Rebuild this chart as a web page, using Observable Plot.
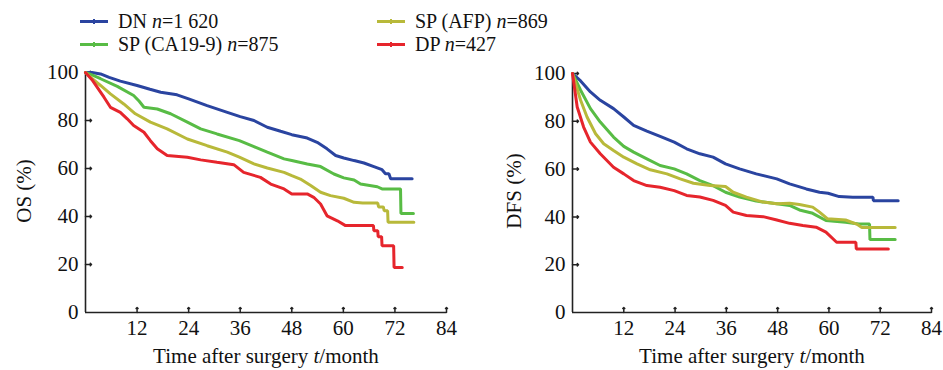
<!DOCTYPE html>
<html>
<head>
<meta charset="utf-8">
<script src="https://cdn.jsdelivr.net/npm/d3@7"></script>
<script src="https://cdn.jsdelivr.net/npm/@observablehq/plot@0.6"></script>
<style>
  html, body { margin: 0; padding: 0; background: #fff; }
  #root { position: relative; width: 943px; height: 370px; overflow: hidden; color: #111; }
  #root, #root * , #root svg text { font-family: "Liberation Serif", "Times New Roman", "DejaVu Serif", serif !important; }
  .abs { position: absolute; }
  .leg { position: absolute; display: flex; align-items: center; height: 23px; font-size: 20px; line-height: 23px; white-space: nowrap; }
  .sw { position: relative; width: 28px; height: 3px; margin-right: 10px; }
  .sw b { position: absolute; left: 13px; top: -1px; width: 2px; height: 5px; }
  .xlab { position: absolute; font-size: 21px; line-height: 24px; transform: translate(-50%, -50%); white-space: nowrap; }
  .ylab { position: absolute; font-size: 21px; line-height: 24px; transform: translate(-50%, -50%) rotate(-90deg); white-space: nowrap; }
</style>
</head>
<body>
<div id="root"></div>
<script>
// ---- data ----
const groups = ["DN", "SP (CA19-9)", "SP (AFP)", "DP"];
const groupN = ["1 620", "875", "869", "427"];
const groupColors = ["#2a44a0", "#58bc45", "#b8b93a", "#e6252c"];
const xTicks = [12, 24, 36, 48, 60, 72, 84];
const yTicks = [0, 20, 40, 60, 80, 100];

// OS curves: [month, survival %]
const osDN = [[0,100],[1.5,100],[3.5,99.4],[5.5,98],[8.1,96.4],[12,94.6],[15,93],[17.5,91.8],[21.3,90.7],[24,89],[28.3,86.2],[33,83.4],[36,81.6],[39.2,80],[42.3,77.2],[45.4,75.5],[48,74.1],[51.6,72.7],[53.9,70.9],[56.2,68.2],[58.2,65.4],[60.1,64.4],[62.5,63.3],[64.8,62.3],[67.1,60.8],[69,59.5],[69.8,57.8],[70.6,57.8],[71,55.7],[76,55.7]];
const osCA = [[0,100],[1.5,99],[3.5,97.4],[7.4,94.2],[11.2,90.4],[12.5,88],[13.6,85.5],[16.7,84.8],[19.8,82.8],[23.7,79.3],[26.8,76.5],[30.6,74.4],[35.8,71.6],[39.2,69.1],[42.3,66.8],[46.2,64],[48,63.3],[51.6,61.9],[54.7,60.8],[57.8,57.7],[60.1,56.1],[62.5,55.2],[64,53.5],[67.9,52.4],[69,51.5],[73.3,51.5],[73.4,41.3],[76.3,41.3]];
const osAFP = [[0,100],[1.5,97.5],[3.5,94.6],[5.8,91.1],[8.9,86.9],[11.6,82.8],[15.1,79.3],[19,76.5],[23.7,72.3],[28.3,69.5],[33,66.8],[35.8,64.7],[39.2,61.9],[42.3,60.2],[46.2,58.4],[48,57],[50,55.6],[52.4,52.9],[54.7,50.1],[57,48.7],[60.1,47.6],[62.5,45.9],[64.5,45.6],[68,45.6],[68.2,44],[69.3,44],[69.5,42.4],[70.3,42.4],[70.4,37.6],[76.4,37.6]];
const osDP = [[0,100],[1.5,97],[2.7,93.9],[4.3,89.7],[5.8,85.5],[8.1,83.4],[9.7,80.7],[11.2,77.9],[13.6,75.1],[15.1,71.6],[16.7,68.2],[19,65.4],[23.7,64.7],[26.8,63.6],[30.6,62.6],[34.5,61.6],[36.8,58.4],[40.7,56.3],[43.1,53.5],[46.2,51.5],[48,49.4],[51.6,49.4],[53.1,48],[54.7,45.2],[56.2,40.3],[58.6,38.2],[60.5,36.2],[67,36.2],[67.1,34.1],[68,34.1],[68.1,31.6],[68.9,31.6],[69,27.8],[71.7,27.8],[71.8,18.8],[73.7,18.8]];

// DFS curves
const dfsDN = [[0,100],[1.9,96.9],[4.2,92.3],[6.5,88.8],[9.6,85.3],[12,81.8],[14.3,78.3],[17.4,75.9],[20.5,73.7],[23.8,71.3],[26.7,68.5],[29.8,66.4],[32.9,65],[35.8,62.2],[39.1,60.1],[43,58],[47.8,55.9],[50.8,53.8],[54.7,51.7],[57.8,50.3],[59.8,49.9],[62.4,48.5],[65.6,48.2],[70.3,48.2],[70.4,46.8],[76.2,46.8]];
const dfsCA = [[0,100],[1.9,93],[4.2,85.3],[6.5,79.7],[9.6,73.4],[12,69.5],[14.3,67.1],[17.4,64.3],[20.5,61.5],[23.8,60.1],[26.7,58],[29.8,55.2],[32.9,53.1],[35.8,50.3],[39.1,48.3],[43,46.6],[47.8,45.5],[50.8,44.8],[53.1,42.9],[56.2,41.5],[59.3,38.5],[63.9,37.8],[67,37],[69.5,37],[69.6,30.5],[75.5,30.5]];
const dfsAFP = [[0,100],[1.9,88.8],[3.4,81.8],[5.4,74.8],[7.3,70.6],[9.6,67.8],[12,65],[15.1,62.2],[18.2,59.7],[22.1,58],[25.2,55.9],[28.3,54.1],[32.2,53.1],[35.8,52.7],[37.6,50.3],[40.7,48.3],[44.6,46.2],[47.8,45.5],[50.8,45.7],[53.1,45.2],[56.2,44.1],[57.8,42],[59.7,39.2],[63.9,38.7],[66.5,37],[67.7,35.6],[75.5,35.6]];
const dfsDP = [[0,100],[1.1,86],[2.6,77.6],[4.2,71.3],[6.5,66.4],[9.6,60.8],[12,58],[14.3,55.2],[17.4,53.1],[20.5,52.4],[23.8,51],[26.7,49],[29.8,48.3],[32.9,46.9],[35.8,44.8],[37.6,42],[40.7,40.6],[44.6,40.1],[47.8,38.7],[50.8,37.3],[53.9,36.4],[57,35.7],[59.3,33.6],[61.8,29.4],[66.3,29.4],[66.4,26.6],[73.9,26.6]];

// ---- build ----
function rows(seriesList) {
  const out = [];
  seriesList.forEach((s, gi) => s.forEach(([t, v]) => out.push({group: groups[gi], t, v})));
  return out;
}
const osRows = rows([osDN, osCA, osAFP, osDP]);
const dfsRows = rows([dfsDN, dfsCA, dfsAFP, dfsDP]);

const FONT = '"Liberation Serif", "Times New Roman", serif';
const AXIS = "#222";

function panel(data, marginLeft, marginRight, marginTop, width) {
  return Plot.plot({
    width, height: 310,
    marginLeft, marginRight, marginTop, marginBottom: 58,
    style: {fontFamily: FONT, fontSize: "21px", color: "#111", background: "transparent", overflow: "visible"},
    x: {domain: [0, 84]},
    y: {domain: [0, 100]},
    color: {domain: groups, range: groupColors},
    marks: [
      Plot.axisX({ticks: xTicks, tickSize: 0, tickPadding: 8, label: null, fontSize: 21}),
      Plot.axisY({ticks: yTicks, tickSize: 0, tickPadding: 7, label: null, fontSize: 21}),
      Plot.vectorX(xTicks, {frameAnchor: "bottom", length: 5, rotate: 0, anchor: "start", stroke: AXIS, strokeWidth: 1.5}),
      Plot.vectorY(yTicks.filter(d => d > 0), {frameAnchor: "left", length: 6, rotate: 90, anchor: "start", stroke: AXIS, strokeWidth: 1.5}),
      Plot.ruleX([0], {stroke: AXIS, strokeWidth: 1.6}),
      Plot.ruleY([0], {stroke: AXIS, strokeWidth: 1.6}),
      Plot.line(data, {x: "t", y: "v", z: "group", stroke: "group", curve: "linear", strokeWidth: 3, strokeLinejoin: "miter"})
    ]
  });
}

const root = document.getElementById("root");

// legend
const legPos = [[80, 10], [80, 33], [377, 10], [377, 33]];
[0, 1, 2, 3].forEach((gi, k) => {
  const d = document.createElement("div");
  d.className = "leg";
  d.style.left = legPos[k][0] + "px";
  d.style.top = legPos[k][1] + "px";
  d.innerHTML = `<span class="sw" style="background:${groupColors[gi]}"><b style="background:${groupColors[gi]}"></b></span><span>${groups[gi]} <i>n</i>=${groupN[gi]}</span>`;
  root.appendChild(d);
});

const left = panel(osRows, 85, 24, 12, 470);
left.classList.add("abs");
left.style.left = "0px"; left.style.top = "60px";
root.appendChild(left);

const right = panel(dfsRows, 92, 12, 13, 463);
right.classList.add("abs");
right.style.left = "480px"; right.style.top = "60px";
root.appendChild(right);

function addLabel(cls, x, y, html) {
  const d = document.createElement("div");
  d.className = cls;
  d.style.left = x + "px"; d.style.top = y + "px";
  d.innerHTML = html;
  root.appendChild(d);
}
addLabel("xlab", 266, 356, "Time after surgery <i>t</i>/month");
addLabel("xlab", 752, 356, "Time after surgery <i>t</i>/month");
addLabel("ylab", 24, 191, "OS (%)");
addLabel("ylab", 514, 191, "DFS (%)");
</script>
</body>
</html>
